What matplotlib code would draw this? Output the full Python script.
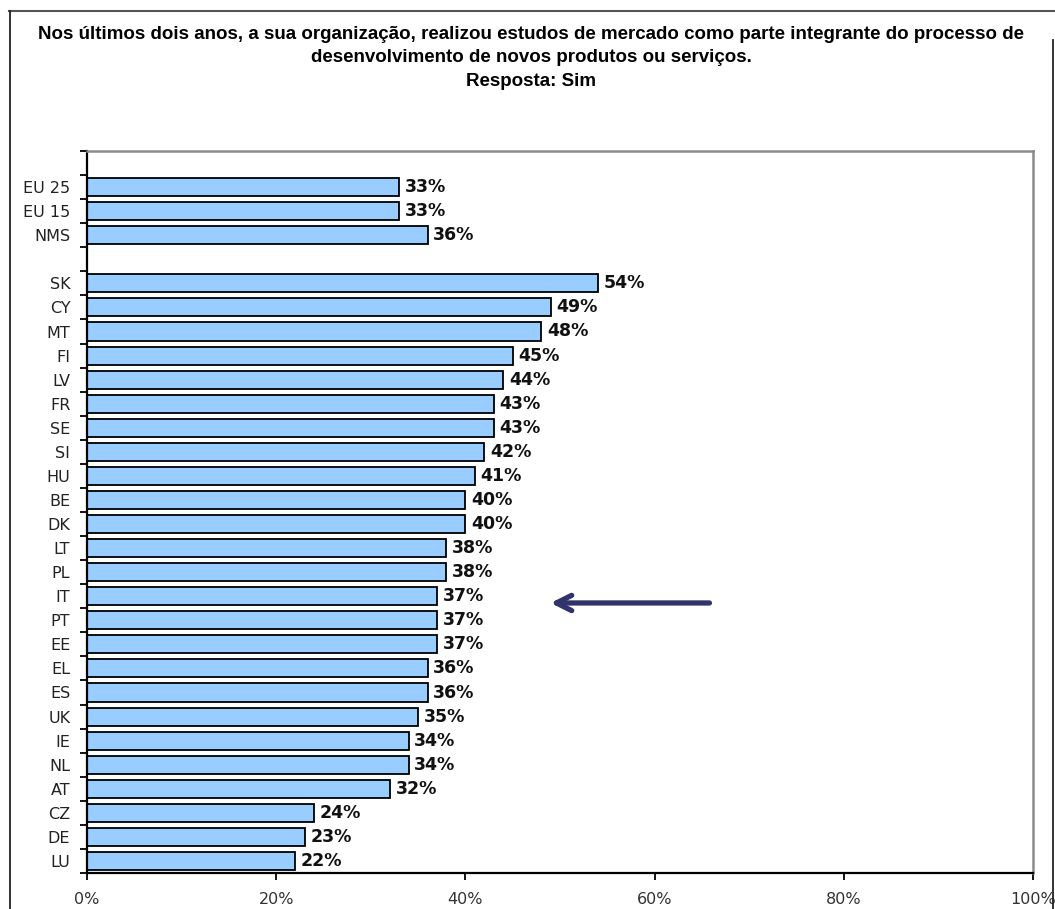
import numpy as np
import matplotlib
matplotlib.use("Agg")
import matplotlib.pyplot as plt
from matplotlib.lines import Line2D

# survey answers ("Sim"), share of organisations in %
groups = ["EU 25", "EU 15", "NMS"]
group_values = [33, 33, 36]
countries = ["SK", "CY", "MT", "FI", "LV", "FR", "SE", "SI", "HU", "BE", "DK",
             "LT", "PL", "IT", "PT", "EE", "EL", "ES", "UK", "IE", "NL", "AT",
             "CZ", "DE", "LU"]
country_values = [54, 49, 48, 45, 44, 43, 43, 42, 41, 40, 40,
                  38, 38, 37, 37, 37, 36, 36, 35, 34, 34, 32,
                  24, 23, 22]
xticks = [0, 20, 40, 60, 80, 100]

title = ("Nos últimos dois anos, a sua organização, realizou estudos de mercado como parte integrante do processo de\n"
         "desenvolvimento de novos produtos ou serviços.\n"
         "Resposta: Sim")

W, H = 1055, 909
fig = plt.figure(figsize=(W / 100, H / 100), dpi=100)
fig.patch.set_facecolor("white")

# slot layout: empty slot on top, the three aggregates, a gap, then the countries
labels = groups + countries
values = group_values + country_values
pos = list(np.arange(len(groups)) + 1.5) + list(np.arange(len(countries)) + len(groups) + 2.5)
nslots = len(groups) + len(countries) + 2

ax = fig.add_axes([87 / W, 1 - 873 / H, (1033 - 87) / W, (873 - 151) / H])
ax.barh(pos, values, height=0.75, color="#99CCFF", edgecolor="black", linewidth=1.3)
ax.set_xlim(0, 100)
ax.set_ylim(nslots, 0)

for p, v in zip(pos, values):
    ax.text(v + 0.6, p, f"{v}%", va="center", ha="left", fontsize=12.5,
            fontweight="bold", color="#111111", family="DejaVu Sans")

# slot boundary ticks on the y axis, labels at the bar centres
ax.set_yticks(np.arange(0, nslots + 1))
ax.set_yticklabels([])
ax.set_yticks(pos, minor=True)
ax.set_yticklabels(labels, minor=True, fontsize=11.5, color="#222222", family="DejaVu Sans")
ax.tick_params(axis="y", which="major", length=5, width=1.3, direction="out")
ax.tick_params(axis="y", which="minor", length=0, pad=12)

ax.set_xticks(xticks)
ax.set_xticklabels([f"{t}%" for t in xticks], fontsize=11.5, color="#333333", family="DejaVu Sans")
ax.tick_params(axis="x", length=5, width=1.3, direction="out", pad=9)

for s in ["left", "bottom"]:
    ax.spines[s].set_linewidth(1.6)
    ax.spines[s].set_color("black")
for s in ["top", "right"]:
    ax.spines[s].set_linewidth(1.8)
    ax.spines[s].set_color("#8a8a8a")

fig.text(531 / W, 1 - 26 / H, title, ha="center", va="top", fontsize=13.5,
         fontweight="bold", family="Liberation Sans", linespacing=1.5)

# arrow pointing at the IT bar
it_row = pos[labels.index("IT")]
ax.annotate("", xy=(49, it_row + 0.28), xytext=(65.8, it_row + 0.28),
            arrowprops=dict(arrowstyle="->,head_length=1.1,head_width=0.55",
                            color="#33336b", lw=3.8, shrinkA=0, shrinkB=0,
                            capstyle="round", joinstyle="round"))

# outer frame
fig.add_artist(Line2D([9 / W, 1], [1 - 11 / H, 1 - 11 / H], color="#555555", lw=1.5))
fig.add_artist(Line2D([10 / W, 10 / W], [0, 1 - 11 / H], color="#222222", lw=1.3))
fig.add_artist(Line2D([1053 / W, 1053 / W], [0, 1 - 40 / H], color="#222222", lw=1.3))

fig.savefig("out.png", dpi=100, facecolor="white")
